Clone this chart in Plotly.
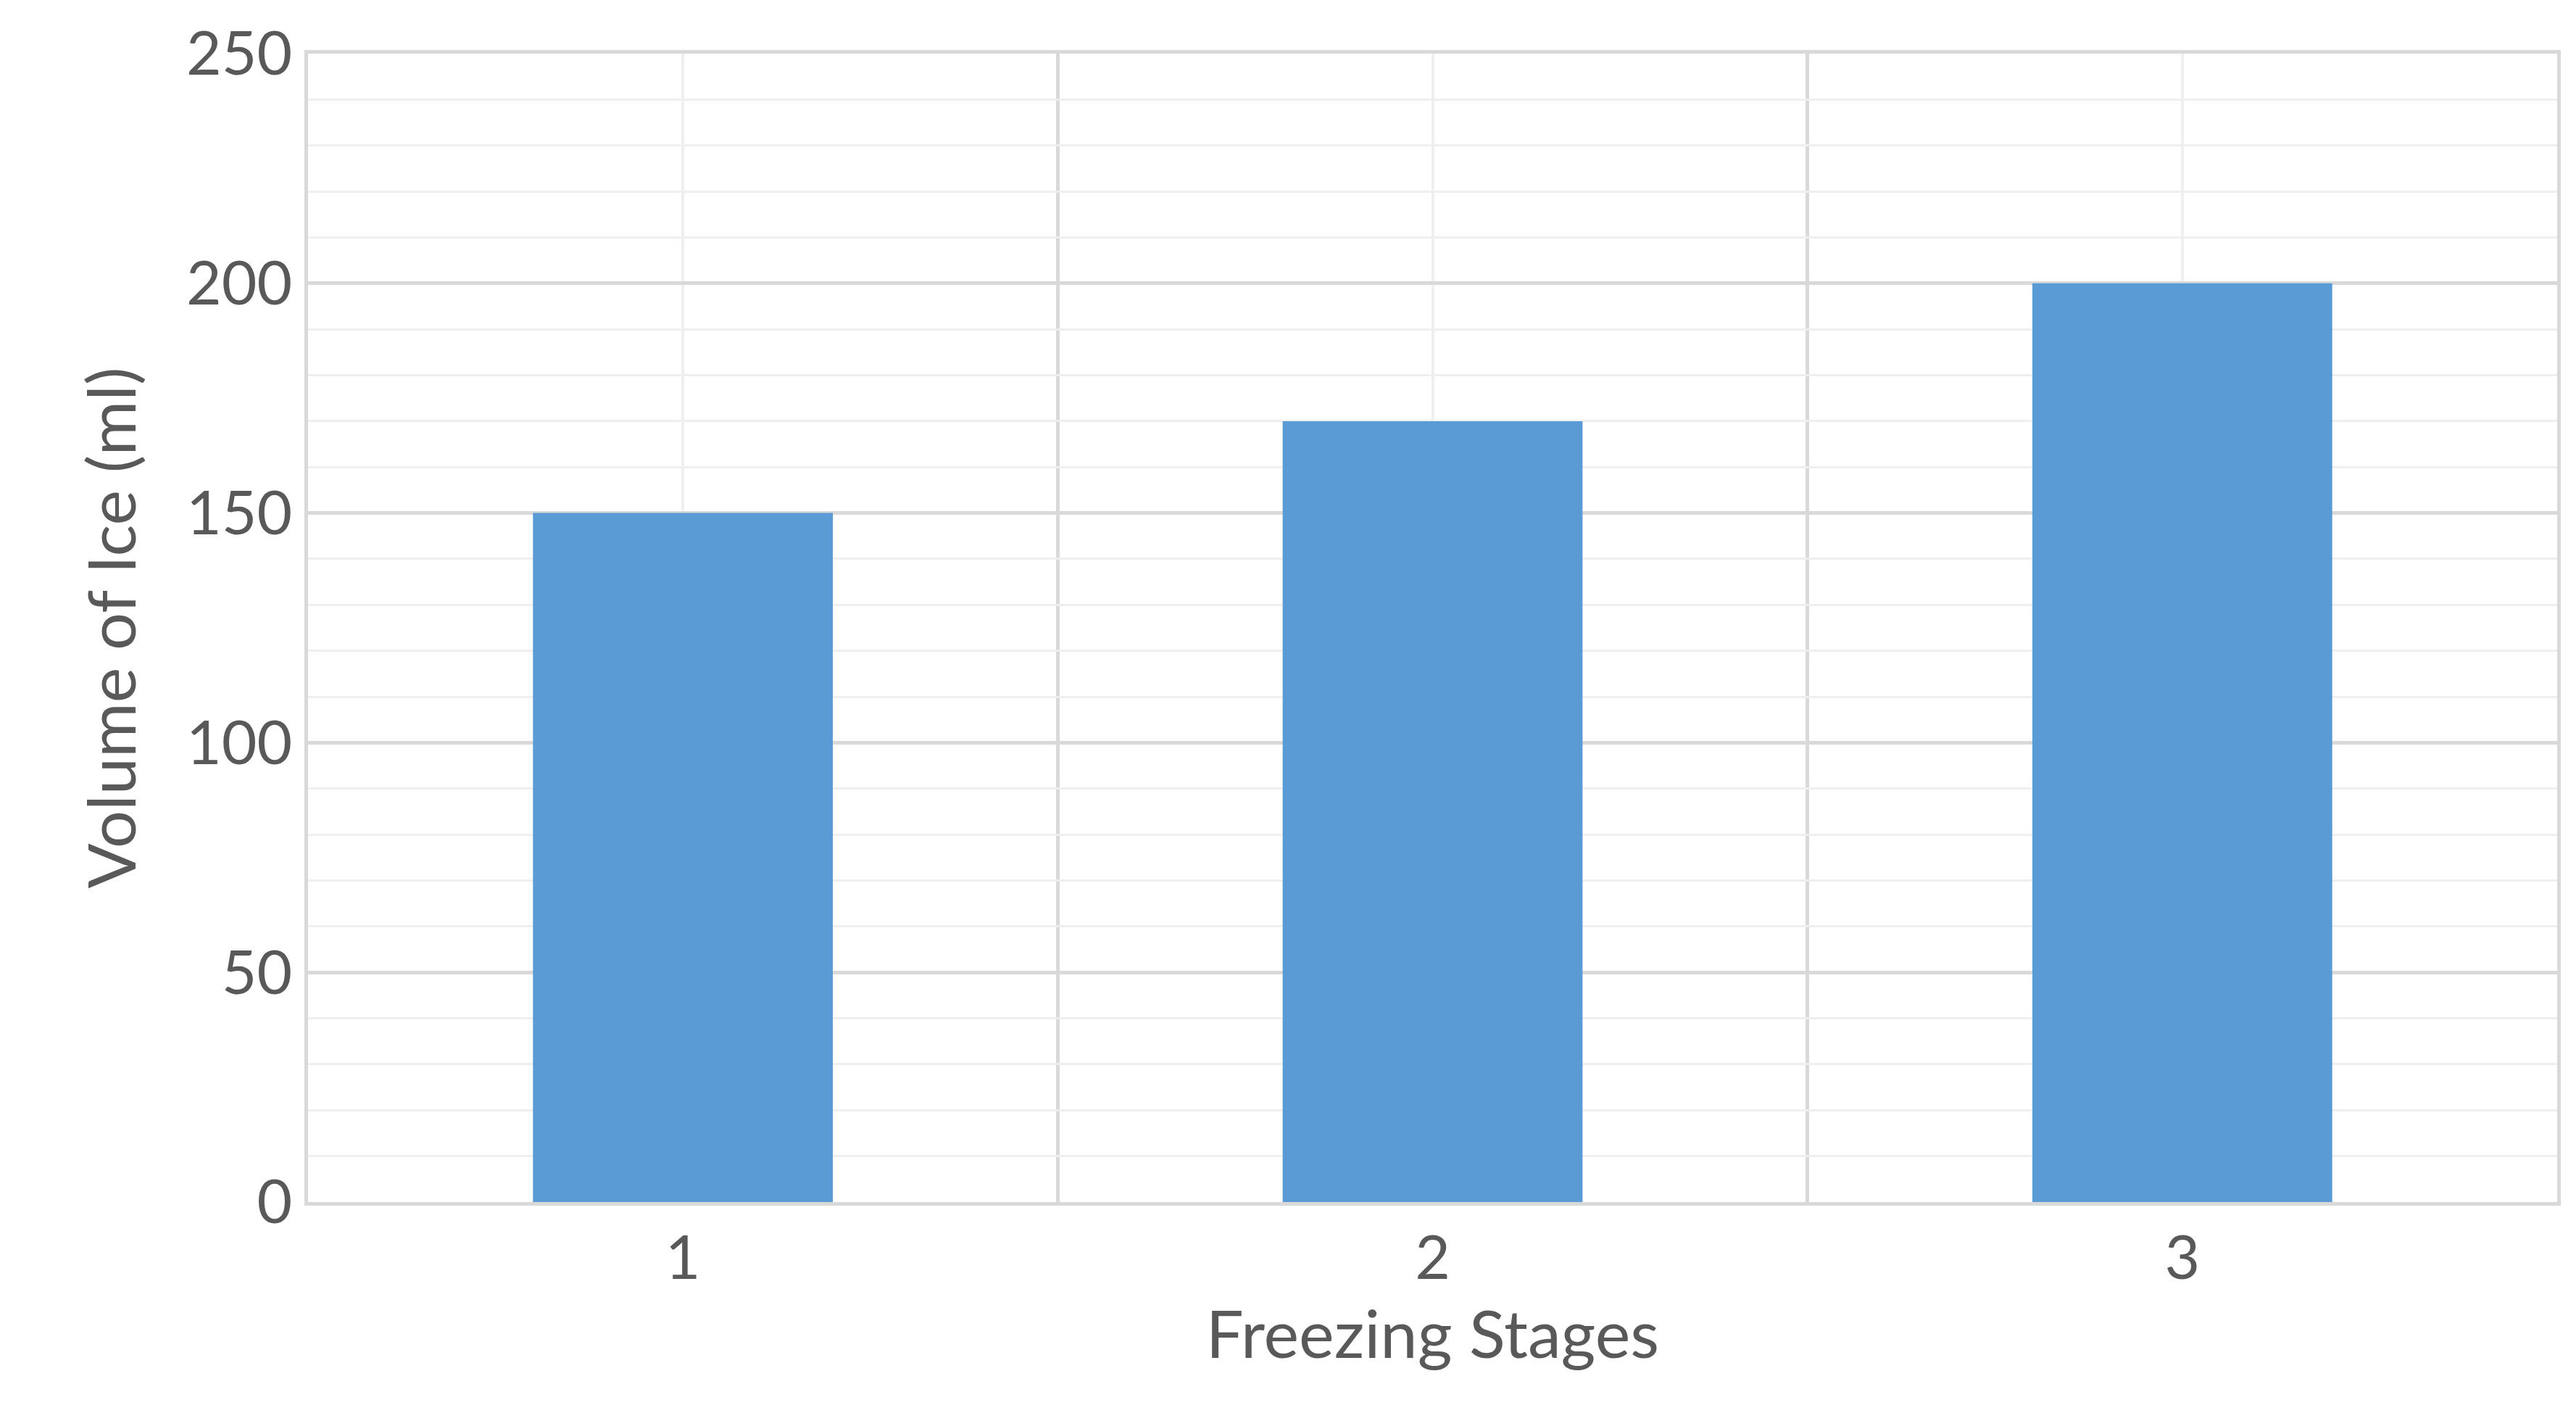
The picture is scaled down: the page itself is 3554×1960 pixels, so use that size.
import plotly.graph_objects as go

stages = [1, 2, 3]
volumes = [150, 170, 200]
tick_labels = ["1", "2", "3"]

fig = go.Figure(go.Bar(x=stages, y=volumes, width=0.4, marker_color="#5B9BD5", marker_line_width=0))

font = dict(family="Lato, Open Sans, sans-serif", color="#595959")
fig.update_layout(
    width=3554, height=1960, paper_bgcolor="white", plot_bgcolor="white",
    margin=dict(l=417, r=34, t=54, b=310), showlegend=False, font=font,
)
fig.update_xaxes(
    range=[0.5, 3.5], tickvals=stages, ticktext=tick_labels,
    tickfont=dict(size=84), ticklen=0, ticks="",
    showgrid=True, gridcolor="#EFEFEF", gridwidth=4,
    minor=dict(tick0=0.5, dtick=1, showgrid=True, gridcolor="#D9D9D9", gridwidth=5),
    showline=True, linecolor="#D9D9D9", linewidth=5, mirror=True,
    title=dict(text="Freezing Stages", font=dict(size=92), standoff=20),
    zeroline=False,
)
fig.update_yaxes(
    range=[0, 250], dtick=50, tickfont=dict(size=84),
    showgrid=True, gridcolor="#D9D9D9", gridwidth=5,
    minor=dict(dtick=10, showgrid=True, gridcolor="#EFEFEF", gridwidth=3),
    showline=True, linecolor="#D9D9D9", linewidth=5, mirror=True,
    title=dict(text="Volume of Ice (ml)", font=dict(size=92), standoff=40),
    zeroline=False, ticklen=0, ticks="",
)
fig.write_html("out.html")
